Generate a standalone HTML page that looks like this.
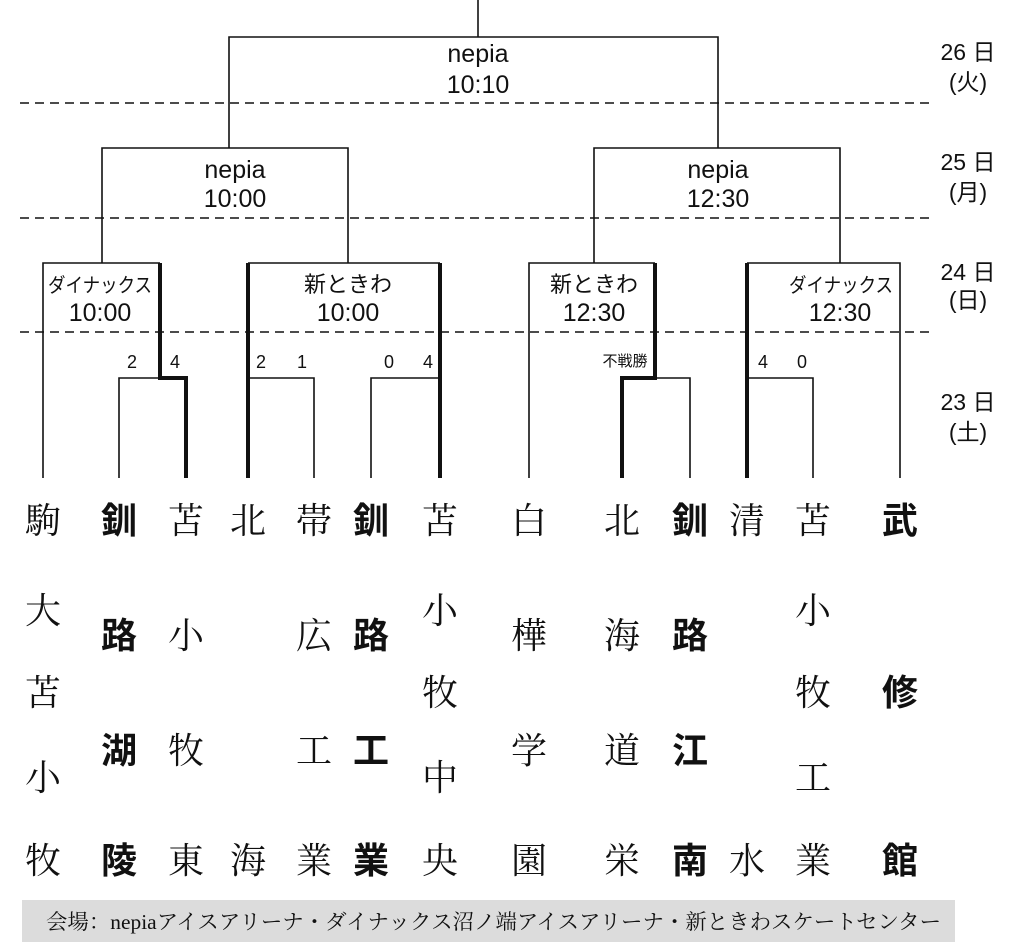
<!DOCTYPE html>
<html><head><meta charset="utf-8">
<style>
html,body{margin:0;padding:0;background:#fff;}
svg{display:block;}
.s{font-family:"Liberation Sans","Noto Sans CJK JP",sans-serif;fill:#111;}
.m{font-family:"Liberation Serif","Noto Serif CJK SC",serif;fill:#111;}
.b{font-family:"Liberation Sans","Noto Sans CJK JP",sans-serif;font-weight:bold;fill:#111;}
</style></head><body>
<svg width="1025" height="946" viewBox="0 0 1025 946" xmlns="http://www.w3.org/2000/svg">
<g stroke="#111" fill="none" stroke-width="1.6">
<g stroke-dasharray="9,6" stroke-width="1.4">
<line x1="20" y1="103" x2="932" y2="103"/>
<line x1="20" y1="218" x2="932" y2="218"/>
<line x1="20" y1="332" x2="932" y2="332"/>
</g>
<line x1="478" y1="0" x2="478" y2="37"/>
<polyline points="229,148 229,37 718,37 718,148"/>
<polyline points="102,263 102,148 348,148 348,263"/>
<polyline points="594,263 594,148 840,148 840,263"/>
<polyline points="43,478 43,263 160,263"/>
<line x1="248" y1="263" x2="440" y2="263"/>
<polyline points="529,478 529,263 655,263"/>
<polyline points="747,263 900,263 900,478"/>
<polyline points="119,478 119,378 160,378"/>
<polyline points="248,378 314,378 314,478"/>
<polyline points="371,478 371,378 440,378"/>
<polyline points="655,378 690,378 690,478"/>
<polyline points="747,378 813,378 813,478"/>
</g>
<g stroke="#111" fill="none" stroke-width="4">
<polyline points="160,263 160,378 186,378 186,478"/>
<line x1="248" y1="263" x2="248" y2="478"/>
<line x1="440" y1="263" x2="440" y2="478"/>
<polyline points="655,263 655,378 622,378 622,478"/>
<line x1="747" y1="263" x2="747" y2="478"/>
</g>
<g class="s" font-size="25" text-anchor="middle">
<text x="478" y="62">nepia</text><text x="478" y="93">10:10</text>
<text x="235" y="178">nepia</text><text x="235" y="207">10:00</text>
<text x="718" y="178">nepia</text><text x="718" y="207">12:30</text>
<text x="100" y="321">10:00</text>
<text x="348" y="321">10:00</text>
<text x="594" y="321">12:30</text>
<text x="840" y="321">12:30</text>
</g>
<g class="s" font-size="20" text-anchor="middle">
<text x="100" y="292" textLength="104" lengthAdjust="spacingAndGlyphs">ダイナックス</text>
<text x="348" y="292" font-size="22">新ときわ</text>
<text x="594" y="292" font-size="22">新ときわ</text>
<text x="841" y="292" textLength="104" lengthAdjust="spacingAndGlyphs">ダイナックス</text>
</g>
<g class="s" font-size="18" text-anchor="middle">
<text x="132" y="368">2</text><text x="175" y="368">4</text>
<text x="261" y="368">2</text><text x="302" y="368">1</text>
<text x="389" y="368">0</text><text x="428" y="368">4</text>
<text x="625" y="366" font-size="15">不戦勝</text>
<text x="763" y="368">4</text><text x="802" y="368">0</text>
</g>
<g class="s" font-size="23" text-anchor="middle">
<text x="968" y="60">26 日</text><text x="968" y="90">(火)</text>
<text x="968" y="170">25 日</text><text x="968" y="200">(月)</text>
<text x="968" y="280">24 日</text><text x="968" y="308">(日)</text>
<text x="968" y="410">23 日</text><text x="968" y="440">(土)</text>
</g>
<g font-size="36" text-anchor="middle">
<g class="m"><text x="43" y="533">駒</text><text x="43" y="623">大</text><text x="43" y="705">苫</text><text x="43" y="790">小</text><text x="43" y="873">牧</text></g>
<g class="b"><text x="119" y="533">釧</text><text x="119" y="648">路</text><text x="119" y="763">湖</text><text x="119" y="873">陵</text></g>
<g class="m"><text x="186" y="533">苫</text><text x="186" y="648">小</text><text x="186" y="763">牧</text><text x="186" y="873">東</text></g>
<g class="m"><text x="248" y="533">北</text><text x="248" y="873">海</text></g>
<g class="m"><text x="314" y="533">帯</text><text x="314" y="648">広</text><text x="314" y="763">工</text><text x="314" y="873">業</text></g>
<g class="b"><text x="371" y="533">釧</text><text x="371" y="648">路</text><text x="371" y="763">工</text><text x="371" y="873">業</text></g>
<g class="m"><text x="440" y="533">苫</text><text x="440" y="623">小</text><text x="440" y="705">牧</text><text x="440" y="790">中</text><text x="440" y="873">央</text></g>
<g class="m"><text x="529" y="533">白</text><text x="529" y="648">樺</text><text x="529" y="763">学</text><text x="529" y="873">園</text></g>
<g class="m"><text x="622" y="533">北</text><text x="622" y="648">海</text><text x="622" y="763">道</text><text x="622" y="873">栄</text></g>
<g class="b"><text x="690" y="533">釧</text><text x="690" y="648">路</text><text x="690" y="763">江</text><text x="690" y="873">南</text></g>
<g class="m"><text x="747" y="533">清</text><text x="747" y="873">水</text></g>
<g class="m"><text x="813" y="533">苫</text><text x="813" y="623">小</text><text x="813" y="705">牧</text><text x="813" y="790">工</text><text x="813" y="873">業</text></g>
<g class="b"><text x="900" y="533">武</text><text x="900" y="705">修</text><text x="900" y="873">館</text></g>
</g>
<rect x="22" y="900" width="933" height="42" fill="#dcdcdc"/>
<text class="m" x="46" y="929" font-size="21" textLength="895" lengthAdjust="spacingAndGlyphs">会場：nepiaアイスアリーナ・ダイナックス沼ノ端アイスアリーナ・新ときわスケートセンター</text>
</svg>
</body></html>
